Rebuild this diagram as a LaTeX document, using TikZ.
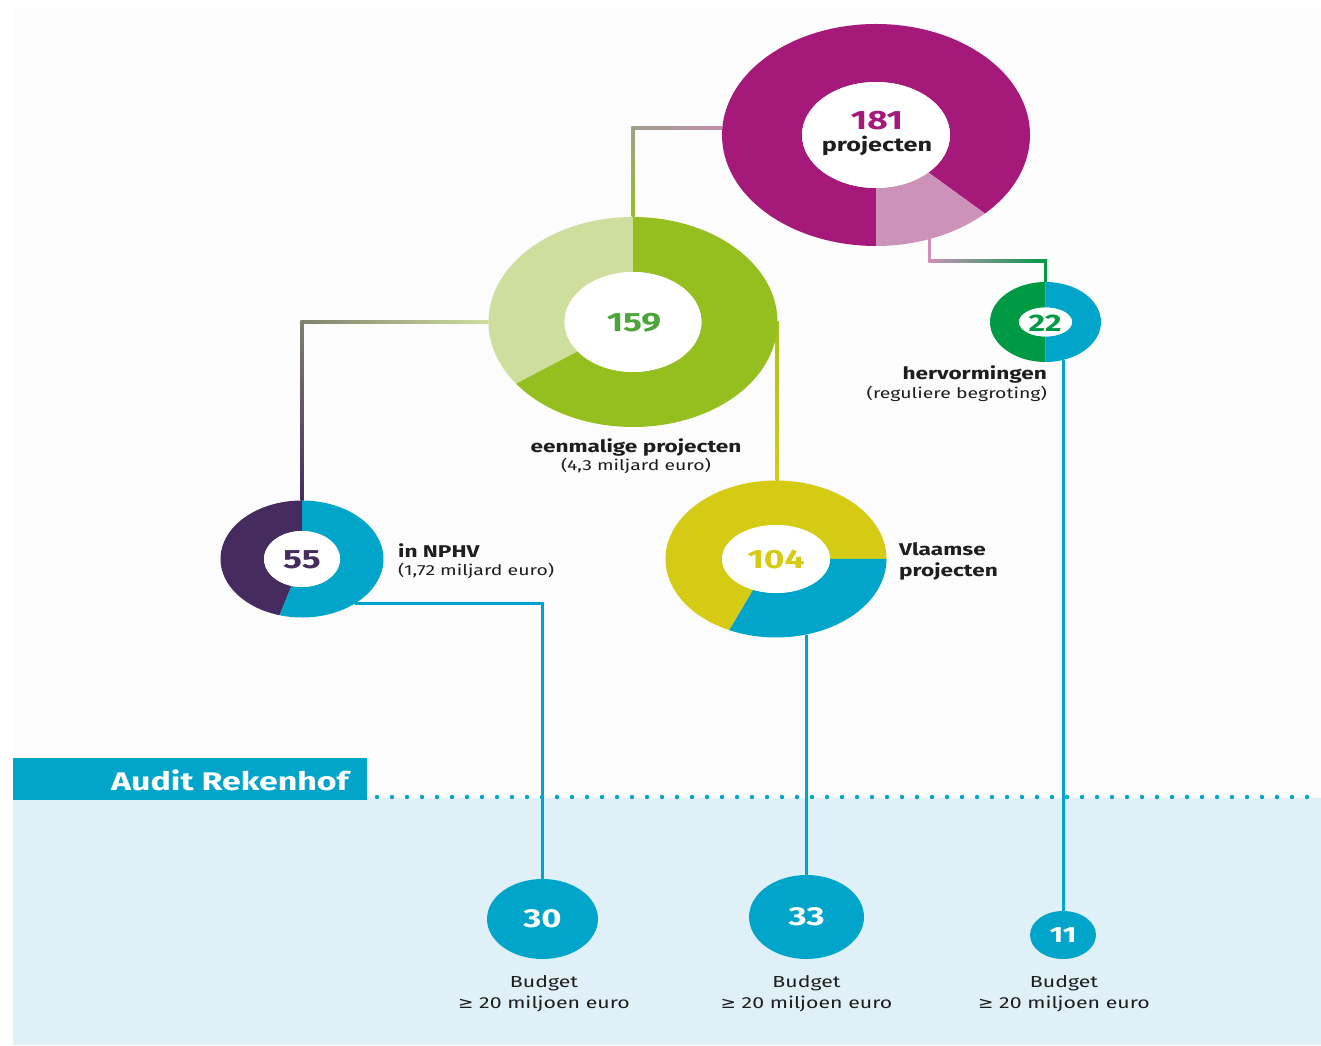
\documentclass[tikz,border=0pt]{standalone}
\usepackage{fontspec}
\setmainfont{Fira Sans}[FakeStretch=1.33]
\newfontfamily\symf{DejaVu Sans}[FakeStretch=1.15]
\usetikzlibrary{shapes.geometric,calc}
\definecolor{canvas}{HTML}{FCFCFC}
\definecolor{lblue}{HTML}{E0F0F7}
\definecolor{cblue}{HTML}{00A5C9}
\definecolor{mag}{HTML}{A4197A}
\definecolor{pinkl}{HTML}{CC92BA}
\definecolor{dgreen}{HTML}{95BF1F}
\definecolor{lgreen}{HTML}{CEDF9D}
\definecolor{tgreen}{HTML}{4CA53A}
\definecolor{hgreen}{HTML}{009A44}
\definecolor{purp}{HTML}{452B5E}
\definecolor{yel}{HTML}{D6CB14}
\definecolor{dtext}{HTML}{1E1E1E}
\definecolor{cgray}{HTML}{A0A08A}
\definecolor{cpink}{HTML}{C28DAA}
\newcommand{\seg}[8]{%
  \fill[#8] ($(#1)+(#6:#2pt and #3pt)$) arc[start angle=#6, end angle=#7, x radius=#2pt, y radius=#3pt]
  -- ($(#1)+(#7:#4pt and #5pt)$) arc[start angle=#7, end angle=#6, x radius=#4pt, y radius=#5pt] -- cycle;}
\begin{document}
\begin{tikzpicture}[x=1pt,y=1pt,
  ring/.style={ellipse, inner sep=0pt, draw=none},
  bub/.style={ellipse, inner sep=0pt, fill=cblue, text=white, font=\fontsize{26}{28}\selectfont\bfseries},
  num/.style={font=\fontsize{26.5}{28}\selectfont\bfseries},
  lab/.style={font=\fontsize{17}{19}\selectfont\bfseries, text=dtext, inner sep=0pt},
  sub/.style={font=\fontsize{14.6}{17}\selectfont, text=dtext, inner sep=0pt},
  bline/.style={draw=cblue, line width=3pt}]
\useasboundingbox (0,0) rectangle (1321,1045);
\fill[white] (0,0) rectangle (1321,1045);
\fill[canvas] (13,0) rectangle (1321,1037);
\fill[lblue] (13,0) rectangle (1321,247);
% audit band
\node[fill=cblue, anchor=south west, minimum width=354pt, minimum height=42pt, inner sep=0pt] (audit) at (13,245) {};
\node[anchor=east, text=white, font=\fontsize{25.5}{28}\selectfont\bfseries, inner sep=0pt] (audittxt) at (349,265) {Audit Rekenhof};
\foreach \i in {0,...,62} \fill[cblue] (377+15*\i,248) circle[radius=2.2pt];
% ring nodes
\node[ring, minimum width=308pt, minimum height=222pt] (r181) at (876,910) {};
\node[ring, minimum width=289pt, minimum height=210pt] (r159) at (633,723) {};
\node[ring, minimum width=111pt, minimum height=80pt] (r22) at (1045.5,723) {};
\node[ring, minimum width=163pt, minimum height=117pt] (r55) at (302,486) {};
\node[ring, minimum width=221pt, minimum height=157pt] (r104) at (776,486) {};
% bottom bubbles
\node[bub, minimum width=111pt, minimum height=80pt] (b30) at (542.5,126) {30};
\node[bub, minimum width=115pt, minimum height=84pt] (b33) at (806.5,128) {33};
\node[bub, minimum width=66pt, minimum height=48pt, font=\fontsize{22}{24}\selectfont\bfseries] (b11) at (1063,110) {11};
% connectors
\coordinate (k1) at ([yshift=7pt]r181.west);
\coordinate (k1b) at (r159.north |- k1);
\shade[left color=cgray, right color=cpink] ($(k1b)+(-1.5,-1.5)$) rectangle ($(k1)+(0,1.5)$);
\shade[top color=cgray, bottom color=dgreen] ($(k1b)+(-1.5,1.5)$) rectangle ($(r159.north)+(1.5,0)$);
\coordinate (k2) at ($(r181)+(-69.5:154pt and 111pt)$);
\coordinate (k2m) at (k2 |- 0,784);
\coordinate (k2n) at (r22.north |- k2m);
\fill[pinkl] ($(k2)+(-1.5,0)$) rectangle ($(k2m)+(1.5,-1.5)$);
\shade[left color=pinkl, right color=hgreen] ($(k2m)+(-1.5,-1.5)$) rectangle ($(k2n)+(1.5,1.5)$);
\fill[hgreen] ($(k2n)+(-1.5,1.5)$) rectangle ($(r22.north)+(1.5,0)$);
\coordinate (k3) at (r55.north |- r159.west);
\shade[left color=cgray!80!black, right color=lgreen] ($(k3)+(-1.5,-1.5)$) rectangle ($(r159.west)+(0,1.5)$);
\shade[top color=cgray!80!black, bottom color=purp] ($(k3)+(-1.5,1.5)$) rectangle ($(r55.north)+(1.5,0)$);
\coordinate (k4) at ($(r159.east)+(-0.5,0)$);
\shade[top color=dgreen!70!yel, bottom color=yel] ($(k4)+(-1.5,0)$) rectangle ($(k4 |- r104.north)+(1.5,0)$);
\coordinate (k5) at ($(r55)+(-49:81.5pt and 58.5pt)$);
\draw[bline] (k5) -| (b30.north);
\coordinate (k6) at ($(r104)+(-74.2:110.5pt and 78.5pt)$);
\draw[bline] (k6) -- (k6 |- b33.north);
\coordinate (k7) at ($(r22)+(-71.6:55.5pt and 40pt)$);
\draw[bline] (k7) -- (k7 |- b11.north);
% ring segments
\seg{r181}{154}{111}{74}{53}{-45}{270}{mag}
\seg{r181}{154}{111}{74}{53}{270}{315}{pinkl}
\fill[white] (r181) ellipse[x radius=74pt, y radius=53pt];
\seg{r159}{144.5}{105}{68.5}{50}{90}{216}{lgreen}
\seg{r159}{144.5}{105}{68.5}{50}{216}{450}{dgreen}
\fill[white] (r159) ellipse[x radius=68.5pt, y radius=50pt];
\seg{r22}{55.5}{40}{26.5}{14.5}{90}{270}{hgreen}
\seg{r22}{55.5}{40}{26.5}{14.5}{270}{450}{cblue}
\fill[white] (r22) ellipse[x radius=26.5pt, y radius=14.5pt];
\seg{r55}{81.5}{58.5}{38}{28}{90}{254}{purp}
\seg{r55}{81.5}{58.5}{38}{28}{254}{450}{cblue}
\fill[white] (r55) ellipse[x radius=38pt, y radius=28pt];
\seg{r104}{110.5}{78.5}{54}{34}{0}{245}{yel}
\seg{r104}{110.5}{78.5}{54}{34}{245}{360}{cblue}
\fill[white] (r104) ellipse[x radius=54pt, y radius=34pt];
% numbers
\node[num, text=mag] (t181) at (877,924) {181};
\node[lab, font=\fontsize{19}{21}\selectfont\bfseries] (t181b) at (877,899) {projecten};
\node[num, text=tgreen] (t159) at (634,722) {159};
\node[num, text=hgreen, font=\fontsize{24}{26}\selectfont\bfseries] (t22) at (1045,722) {22};
\node[num, text=purp] (t55) at (302,485) {55};
\node[num, text=yel] (t104) at (776,485) {104};
% labels
\node[lab, anchor=east] (lh1) at (1047,671) {hervormingen};
\node[sub, anchor=east] (lh2) at (1047,651) {(reguliere begroting)};
\node[lab] (le1) at (636,598) {eenmalige projecten};
\node[sub] (le2) at (636,579) {(4,3 miljard euro)};
\node[lab, anchor=west] (ln1) at (398,494) {in NPHV};
\node[sub, anchor=west] (ln2) at (398,474) {(1,72 miljard euro)};
\node[lab, anchor=west] (lv1) at (899,496) {Vlaamse};
\node[lab, anchor=west] (lv2) at (899,474) {projecten};
\foreach \n/\x in {a/544,b/806.5,c/1064}{
  \node[sub, font=\fontsize{16}{18}\selectfont] (bud\n) at (\x,62) {Budget};
  \node[sub, font=\fontsize{16}{18}\selectfont] (bux\n) at (\x,41) {{\symf ≥} 20 miljoen euro};
}
\end{tikzpicture}
\end{document}
